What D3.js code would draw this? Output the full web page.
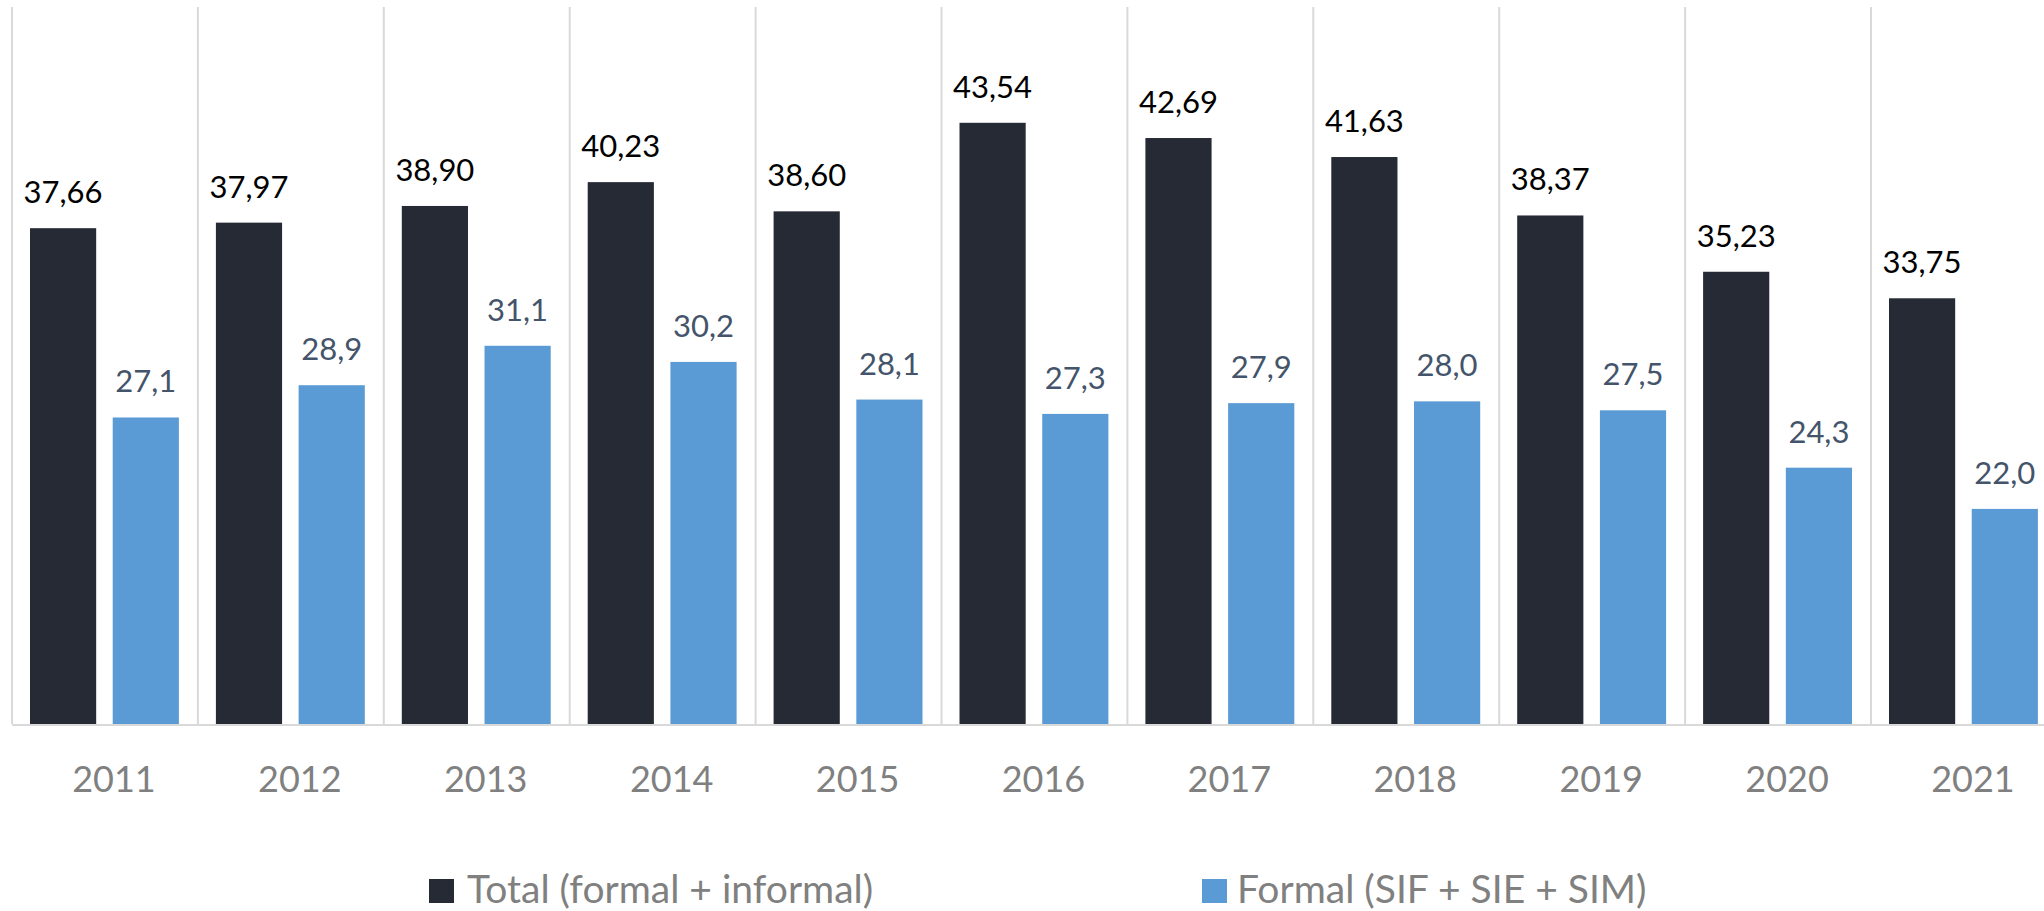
<!DOCTYPE html>
<html>
<head>
<meta charset="utf-8">
<script src="https://cdn.jsdelivr.net/npm/d3@7"></script>
<style>
  html, body { margin: 0; padding: 0; background: #fff; }
  svg { display: block; font-family: Lato, "Noto Sans", sans-serif; }
</style>
</head>
<body>
<div id="chart"></div>
<script>
const years = ["2011", "2012", "2013", "2014", "2015", "2016", "2017", "2018", "2019", "2020", "2021"];
const totalValues = [37.66, 37.97, 38.90, 40.23, 38.60, 43.54, 42.69, 41.63, 38.37, 35.23, 33.75];
const formalValues = [27.1, 28.9, 31.1, 30.2, 28.1, 27.3, 27.9, 28.0, 27.5, 24.3, 22.0];
const seriesNames = ["Total (formal + informal)", "Formal (SIF + SIE + SIM)"];
const yDomain = [10, 50];

const width = 2044;
const height = 911;
const plotLeft = 12;
const step = 185.9;
const plotTop = 7;
const plotBottom = 724;

const colors = ["#252a35", "#5b9bd5"];
const labelColors = ["#000000", "#44546a"];
const decimals = [2, 1];

const locale = d3.formatLocale({decimal: ",", thousands: ".", grouping: [3], currency: ["", ""]});

const data = years.map((yr, i) => ({
    year: yr,
    values: [totalValues[i], formalValues[i]]
}));

const x0 = d3.scaleBand()
    .domain(years)
    .range([plotLeft, plotLeft + step * years.length])
    .padding(0);

const x1 = d3.scaleBand()
    .domain([0, 1])
    .range([18, x0.bandwidth() - 19])
    .paddingInner(0.2);

const y = d3.scaleLinear()
    .domain(yDomain)
    .range([plotBottom, plotTop]);

const svg = d3.select("#chart")
    .append("svg")
    .attr("width", width)
    .attr("height", height)
    .attr("viewBox", [0, 0, width, height]);

// vertical gridlines between categories
svg.append("g")
    .selectAll("line")
    .data(years)
    .join("line")
    .attr("x1", d => x0(d))
    .attr("x2", d => x0(d))
    .attr("y1", plotTop)
    .attr("y2", plotBottom)
    .attr("stroke", "#d9d9d9")
    .attr("stroke-width", 2);

const groups = svg.append("g")
    .selectAll("g")
    .data(data)
    .join("g")
    .attr("transform", d => `translate(${x0(d.year)},0)`);

groups.selectAll("rect")
    .data(d => d.values.map((v, k) => ({k, v})))
    .join("rect")
    .attr("x", d => x1(d.k))
    .attr("width", x1.bandwidth())
    .attr("y", d => y(d.v))
    .attr("height", d => y(yDomain[0]) - y(d.v))
    .attr("fill", d => colors[d.k]);

groups.selectAll("text.val")
    .data(d => d.values.map((v, k) => ({k, v})))
    .join("text")
    .attr("class", "val")
    .attr("x", d => x1(d.k) + x1.bandwidth() / 2)
    .attr("y", d => y(d.v) - 25)
    .attr("text-anchor", "middle")
    .attr("font-size", 31)
    .attr("fill", d => labelColors[d.k])
    .text(d => locale.format(`.${decimals[d.k]}f`)(d.v));

// baseline
svg.append("line")
    .attr("x1", plotLeft)
    .attr("x2", x0.range()[1])
    .attr("y1", plotBottom + 1)
    .attr("y2", plotBottom + 1)
    .attr("stroke", "#d9d9d9")
    .attr("stroke-width", 2);

// category axis
const xAxis = g => g
    .attr("transform", `translate(9,${plotBottom})`)
    .call(d3.axisBottom(x0).tickSize(0).tickPadding(42))
    .call(g => g.select(".domain").remove())
    .call(g => g.selectAll("text")
        .attr("font-family", "Lato, 'Noto Sans', sans-serif")
        .attr("font-size", 36)
        .attr("fill", "#808080"));

svg.append("g").call(xAxis);

// legend
const legendX = [429, 1202];
const legend = svg.append("g")
    .selectAll("g")
    .data(seriesNames)
    .join("g")
    .attr("transform", (d, i) => `translate(${legendX[i]},879)`);

legend.append("rect")
    .attr("width", 25)
    .attr("height", 24)
    .attr("fill", (d, i) => colors[i]);

legend.append("text")
    .attr("x", (d, i) => i ? 35 : 38)
    .attr("y", 24)
    .attr("font-size", 39)
    .attr("fill", "#808080")
    .text(d => d);
</script>
</body>
</html>
